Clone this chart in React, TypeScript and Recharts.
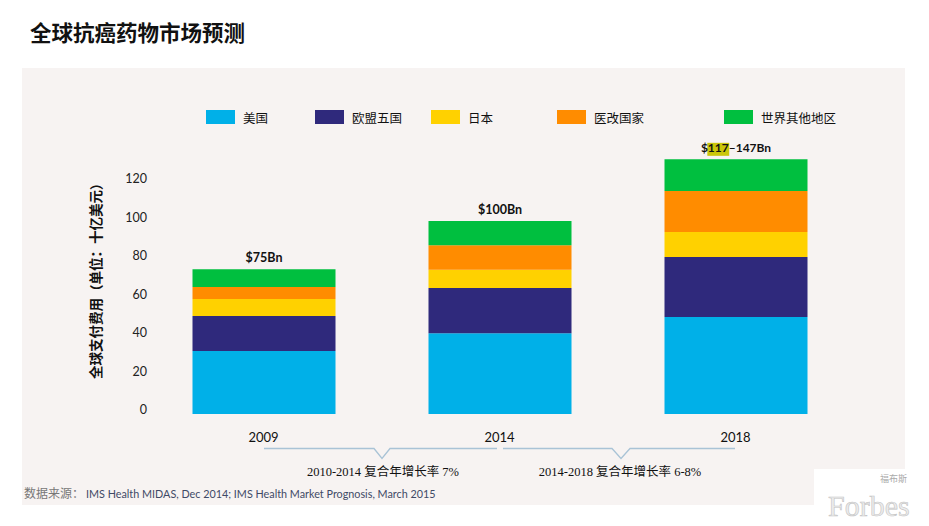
import React, { useLayoutEffect, useRef, useState } from 'react';
import { BarChart, Bar, XAxis, YAxis, LabelList } from 'recharts';

const years = ['2009', '2014', '2018'];
const usa = [32.7, 42, 50.4];
const eu5 = [18.2, 23.4, 31.2];
const japan = [8.8, 9.5, 12.9];
const pharmerging = [6.3, 12.8, 21.3];
const restOfWorld = [9.2, 12.5, 16.5];
const totalLabels = ['$75Bn', '$100Bn', '$117–147Bn'];
const highlighted = ['', '', '117'];
const seriesNames = ['美国', '欧盟五国', '日本', '医改国家', '世界其他地区'];
const seriesKeys = ['usa', 'eu5', 'japan', 'pharmerging', 'row'];
const seriesColors = ['#00b0e8', '#2f297c', '#ffd100', '#ff8c00', '#00bf3f'];
const yTicks = [0, 20, 40, 60, 80, 100, 120];
const growthLabels = ['2010-2014 复合年增长率 7%', '2014-2018 复合年增长率 6-8%'];

const chartData = years.map((year, i) => ({
  year,
  usa: usa[i],
  eu5: eu5[i],
  japan: japan[i],
  pharmerging: pharmerging[i],
  row: restOfWorld[i],
  label: totalLabels[i],
}));

// legend swatch left edges
const legendLeft = [206, 315, 431, 557, 724];

const sansFont = 'Lato, "Noto Sans CJK SC", sans-serif';
const cjkFont = '"Noto Sans CJK SC", sans-serif';
const serifFont = '"Liberation Serif", "Noto Sans CJK SC", serif';

const YTick = ({ x, y, payload }: any) => (
  <text x={x + 1.5} y={y} textAnchor="end" fill="#222" fontSize={12.5} fontFamily={sansFont}>
    {payload.value}
  </text>
);

const XTick = ({ x, y, payload }: any) => (
  <text x={x} y={y} dy={20} textAnchor="middle" fill="#111" fontSize={13} fontFamily={sansFont}>
    {payload.value}
  </text>
);

// label with part of it marked, the mark is sized from the rendered glyphs
const MarkedLabel = ({ cx, ty, value, hl }: any) => {
  const ref = useRef<SVGTextElement>(null);
  const [box, setBox] = useState<{ x: number; w: number } | null>(null);
  const from = value.indexOf(hl);
  useLayoutEffect(() => {
    const el = ref.current;
    if (!el || from < 0) return;
    try {
      const a = el.getStartPositionOfChar(from);
      const b = el.getEndPositionOfChar(from + hl.length - 1);
      setBox({ x: a.x, w: b.x - a.x });
    } catch (e) {
      // ignore
    }
  }, [value, hl]);
  return (
    <g>
      {box ? <rect x={box.x - 0.5} y={ty - 9.5} width={box.w + 1} height={13} fill="#cbc60a" /> : null}
      <text ref={ref} x={cx} y={ty} textAnchor="middle" fontWeight={700} fontSize={12} fill="#111" fontFamily={sansFont}>
        {value}
      </text>
    </g>
  );
};

const TotalLabel = (props: any) => {
  const { x, y, width, value } = props;
  const cx = x + width / 2;
  const ty = y - 7;
  const hl = highlighted[totalLabels.indexOf(value)];
  if (hl) return <MarkedLabel cx={cx} ty={ty} value={value} hl={hl} />;
  return (
    <text x={cx} y={ty} textAnchor="middle" fontWeight={700} fontSize={12.5} fill="#111" fontFamily={sansFont}>
      {value}
    </text>
  );
};

const AxisTitle = ({ viewBox }: any) => {
  const cx = viewBox.x + 9.5;
  const cy = viewBox.y + viewBox.height / 2 - 1.5;
  return (
    <text
      x={cx}
      y={cy}
      transform={`rotate(-90, ${cx}, ${cy})`}
      textAnchor="middle"
      dominantBaseline="central"
      fontWeight={700}
      fontSize={13.5}
      fill="#111"
      fontFamily={cjkFont}
    >
      全球支付费用（单位：十亿美元）
    </text>
  );
};

export default function App() {
  return (
    <div style={{ position: 'absolute', left: 0, top: 0, width: 929, height: 526, background: '#fff', overflow: 'hidden' }}>
      <div
        style={{
          position: 'absolute',
          left: 30,
          top: 19,
          fontSize: 21.5,
          lineHeight: '26px',
          fontWeight: 700,
          color: '#111',
          fontFamily: cjkFont,
        }}
      >
        全球抗癌药物市场预测
      </div>
      <div style={{ position: 'absolute', left: 22, top: 68, width: 883, height: 437, background: '#f7f3f2' }} />

      {seriesNames.map((name, i) => (
        <div key={name} style={{ position: 'absolute', left: legendLeft[i], top: 110, height: 14, display: 'flex', alignItems: 'center' }}>
          <div style={{ width: 29, height: 14, background: seriesColors[i] }} />
          <span style={{ marginLeft: 8, fontSize: 12.5, color: '#111', fontFamily: cjkFont, whiteSpace: 'nowrap' }}>{name}</span>
        </div>
      ))}

      <div style={{ position: 'absolute', left: 0, top: 0 }}>
        <BarChart
          width={929}
          height={526}
          data={chartData}
          margin={{ top: 144.5, right: 75.5, bottom: 82, left: 85.5 }}
        >
          <XAxis dataKey="year" axisLine={false} tickLine={false} tick={<XTick />} height={30} interval={0} />
          <YAxis
            domain={[0, 140]}
            ticks={yTicks}
            axisLine={false}
            tickLine={false}
            tickSize={0}
            tickMargin={0}
            width={60}
            tick={<YTick />}
            label={<AxisTitle />}
          />
          {seriesKeys.map((key, i) => (
            <Bar key={key} dataKey={key} name={seriesNames[i]} stackId="a" fill={seriesColors[i]} barSize={143} isAnimationActive={false}>
              {key === 'row' ? <LabelList dataKey="label" content={<TotalLabel />} /> : null}
            </Bar>
          ))}
        </BarChart>
      </div>

      <svg width={929} height={526} style={{ position: 'absolute', left: 0, top: 0, pointerEvents: 'none' }}>
        <polyline points="264,448.5 374,448.5 382,458.5 390,448.5 497,448.5" fill="none" stroke="#a9c3d6" strokeWidth={1.3} />
        <polyline points="503,448.5 612,448.5 621,458.5 630,448.5 735,448.5" fill="none" stroke="#a9c3d6" strokeWidth={1.3} />
        <text x={383} y={476} textAnchor="middle" fontSize={12.5} fill="#111" fontFamily={serifFont}>
          {growthLabels[0]}
        </text>
        <text x={620} y={476} textAnchor="middle" fontSize={12.5} fill="#111" fontFamily={serifFont}>
          {growthLabels[1]}
        </text>
        <text x={24} y={498} fontSize={12} fill="#777" fontFamily={cjkFont}>
          数据来源：
        </text>
        <text x={86} y={498} fontSize={10.8} fill="#3f4a66" fontFamily={sansFont}>
          IMS Health MIDAS, Dec 2014; IMS Health Market Prognosis, March 2015
        </text>
        <rect x={814} y={469} width={115} height={57} fill="#fff" />
        <text x={880} y={482} fontSize={9} fill="#aaa" fontFamily={cjkFont}>
          福布斯
        </text>
        <text x={828} y={516} fontSize={30} fill="#ececec" stroke="#c4c4c4" strokeWidth={0.6} fontFamily={serifFont}>
          Forbes
        </text>
      </svg>
    </div>
  );
}
